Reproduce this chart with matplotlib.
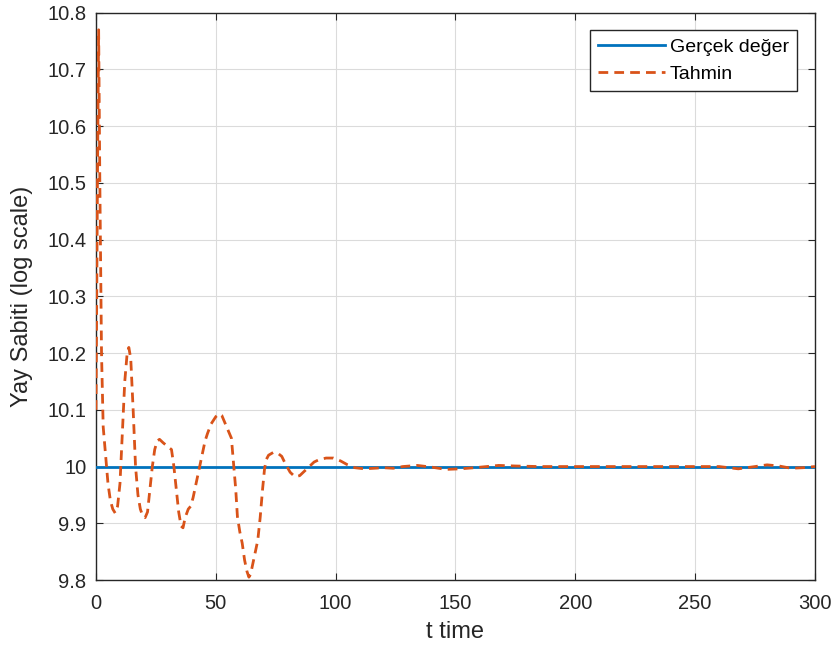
import matplotlib
matplotlib.use("Agg")
import matplotlib.pyplot as plt

plt.rcParams['font.family'] = ['Liberation Sans', 'DejaVu Sans']

# Estimated spring constant over time
t_est = [0, 0.6, 1.1, 1.6, 2.3, 3, 4, 5, 6, 7, 8, 9, 10, 11, 12, 13, 13.7,
         14.5, 15.5, 16.5, 17.5, 18.5, 19.5, 20.5, 21.5, 22.5, 23.5, 24.5,
         25.5, 26.5, 28, 30, 31.5, 32.5, 33.5, 34.5, 35.5, 36.3, 37.2, 38.5,
         39.5, 40.5, 41.5, 42.5, 43.5, 44.5, 45.5, 46.5, 48, 50, 51.5, 52.5,
         53.5, 55, 56.5, 57.3, 58.3, 59, 60, 61, 62, 63, 63.8, 64.5, 65.5,
         66.5, 67.5, 68.5, 69.5, 70.3, 71, 72, 74, 76, 77.5, 79, 81, 83, 85,
         87, 89, 91, 93, 96, 99, 102, 105, 108, 112, 116, 120, 124, 128, 134,
         140, 146, 152, 158, 163, 168, 175, 185, 200, 215, 230, 245, 260, 268,
         275, 280, 285, 290, 295, 300]
k_est = [10.10, 10.50, 10.77, 10.50, 10.20, 10.07, 10.02, 9.97, 9.94, 9.925,
         9.918, 9.93, 9.97, 10.06, 10.15, 10.20, 10.21, 10.19, 10.10, 10.00,
         9.95, 9.925, 9.913, 9.91, 9.92, 9.96, 10.00, 10.03, 10.045, 10.048,
         10.042, 10.035, 10.03, 10.00, 9.96, 9.92, 9.895, 9.892, 9.91, 9.925,
         9.93, 9.945, 9.965, 9.985, 10.005, 10.025, 10.045, 10.058, 10.075,
         10.088, 10.093, 10.09, 10.08, 10.065, 10.05, 10.01, 9.96, 9.912,
         9.885, 9.865, 9.835, 9.815, 9.805, 9.81, 9.83, 9.85, 9.87, 9.91,
         9.96, 9.995, 10.012, 10.02, 10.025, 10.023, 10.018, 10.005, 9.99,
         9.982, 9.984, 9.992, 10.0, 10.008, 10.012, 10.015, 10.015, 10.01,
         10.003, 9.998, 9.996, 9.997, 9.998, 9.997, 10.0, 10.002, 9.999,
         9.995, 9.996, 9.998, 10.0, 10.002, 10.001, 10.0, 10.0, 10.0, 10.0,
         10.0, 10.0, 9.996, 10.0, 10.003, 10.001, 9.997, 9.998, 10.0]

# True value
t_true = [0, 300]
k_true = [10.0, 10.0]

x_ticks = [0, 50, 100, 150, 200, 250, 300]
y_ticks = [9.8, 9.9, 10.0, 10.1, 10.2, 10.3, 10.4, 10.5, 10.6, 10.7, 10.8]
y_ticklabels = ['9.8', '9.9', '10', '10.1', '10.2', '10.3', '10.4', '10.5',
                '10.6', '10.7', '10.8']

blue = (0.0, 0.447, 0.741)
orange = (0.85, 0.325, 0.098)
axis_col = (0.15, 0.15, 0.15)

fig = plt.figure(figsize=(8.37, 6.55), dpi=100)
ax = fig.add_axes([0.1147, 0.1145, 0.859, 0.8660])

ax.plot(t_true, k_true, color=blue, lw=2.0, label='Gerçek değer', zorder=3)
ax.plot(t_est, k_est, color=orange, lw=2.0, ls=(0, (3.5, 2.2)),
        label='Tahmin', zorder=4)

ax.set_xlim(0, 300)
ax.set_ylim(9.8, 10.8)
ax.set_xticks(x_ticks)
ax.set_yticks(y_ticks)
ax.set_yticklabels(y_ticklabels)

ax.grid(True, color=(0.86, 0.86, 0.86), lw=0.8)
ax.set_axisbelow(True)
for s in ax.spines.values():
    s.set_color(axis_col)
    s.set_linewidth(1.0)
ax.tick_params(direction='in', top=True, right=True, length=5,
               colors=axis_col, labelsize=14.5)
ax.tick_params(axis='x', pad=10)
ax.tick_params(axis='y', pad=7)

ax.set_xlabel('t time', fontsize=17, color=axis_col, labelpad=6)
ax.set_ylabel('Yay Sabiti (log scale)', fontsize=17, color=axis_col,
              labelpad=10)

leg = ax.legend(loc='upper right', fontsize=14, handlelength=3.45,
                handletextpad=0.25, borderpad=0.42, labelspacing=0.5,
                borderaxespad=0, fancybox=False, framealpha=1,
                edgecolor=axis_col, bbox_to_anchor=(0.975, 0.9697))
leg.get_frame().set_linewidth(1.0)

fig.savefig('out.png', dpi=100)
